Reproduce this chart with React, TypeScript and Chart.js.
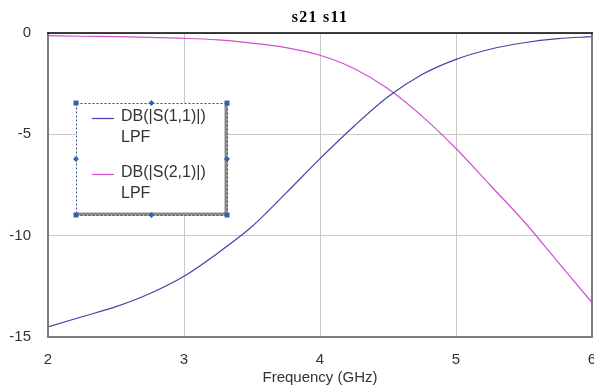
import React, { useEffect, useRef } from "react";
import { Chart, registerables } from "chart.js";

Chart.register(...registerables);

const freqGHz = [2, 2.25, 2.5, 2.75, 3, 3.25, 3.5, 3.75, 4, 4.25, 4.5, 4.75, 5, 5.25, 5.5, 5.75, 6];
const s11dB = [-14.5, -14.0, -13.5, -12.85, -12.0, -10.85, -9.55, -7.9, -6.2, -4.6, -3.15, -2.05, -1.3, -0.8, -0.48, -0.28, -0.18];
const s21dB = [-0.13, -0.16, -0.18, -0.22, -0.26, -0.34, -0.5, -0.72, -1.1, -1.75, -2.75, -4.1, -5.7, -7.5, -9.3, -11.3, -13.3];
const xTicks = [2, 3, 4, 5, 6];
const yTicks = [0, -5, -10, -15];
const seriesNames = ["DB(|S(1,1)|)", "DB(|S(2,1)|)"];
const seriesSub = ["LPF", "LPF"];
const chartTitle = "s21 s11";
const xTitle = "Frequency (GHz)";

const BLUE = "#4444a8";
const MAGENTA = "#d050d0";
const TXT = "#333333";
const FONT = "'Liberation Sans', Arial, sans-serif";

const decorPlugin = {
  id: "decor",
  afterDraw(chart: any) {
    const { ctx, chartArea: a } = chart;
    ctx.save();
    // borders
    ctx.lineWidth = 2;
    ctx.strokeStyle = "#7a7a7a";
    ctx.beginPath();
    ctx.moveTo(a.left, a.top);
    ctx.lineTo(a.left, a.bottom);
    ctx.lineTo(a.right, a.bottom);
    ctx.lineTo(a.right, a.top);
    ctx.stroke();
    ctx.lineWidth = 1.5;
    ctx.strokeStyle = "#000000";
    ctx.beginPath();
    ctx.moveTo(a.left - 1, a.top);
    ctx.lineTo(a.right + 1, a.top);
    ctx.stroke();

    // title
    ctx.fillStyle = "#000";
    ctx.font = "bold 16px 'Liberation Serif', 'Times New Roman', serif";
    (ctx as any).letterSpacing = "1.3px";
    ctx.textAlign = "center";
    ctx.textBaseline = "middle";
    ctx.fillText(chartTitle, (a.left + a.right) / 2, 18);
    (ctx as any).letterSpacing = "0px";

    // x title
    ctx.fillStyle = TXT;
    ctx.font = "15px " + FONT;
    ctx.fillText(xTitle, (a.left + a.right) / 2, 378);

    // legend box
    const L = 76, T = 103, R = 227, B = 215;
    ctx.fillStyle = "#ffffff";
    ctx.fillRect(L, T, R - L, B - T);
    ctx.strokeStyle = "#8a8a8a";
    ctx.lineWidth = 3;
    ctx.beginPath();
    ctx.moveTo(R - 1, T + 2);
    ctx.lineTo(R - 1, B - 1);
    ctx.lineTo(L + 2, B - 1);
    ctx.stroke();
    ctx.strokeStyle = "#2c4a78";
    ctx.lineWidth = 1;
    ctx.setLineDash([2, 2]);
    ctx.strokeRect(L + 0.5, T + 0.5, R - L, B - T);
    ctx.setLineDash([]);
    ctx.fillStyle = "#3464a8";
    const corners = [[L, T], [R, T], [L, B], [R, B]];
    corners.forEach(([x, y]) => ctx.fillRect(x - 2.5, y - 2.5, 5, 5));
    const mids = [[(L + R) / 2, T], [(L + R) / 2, B], [L, (T + B) / 2], [R, (T + B) / 2]];
    mids.forEach(([x, y]) => {
      ctx.beginPath();
      ctx.moveTo(x, y - 3);
      ctx.lineTo(x + 3, y);
      ctx.lineTo(x, y + 3);
      ctx.lineTo(x - 3, y);
      ctx.closePath();
      ctx.fill();
    });
    const cols = [BLUE, MAGENTA];
    const rows = [117, 173];
    ctx.textAlign = "left";
    ctx.textBaseline = "middle";
    ctx.font = "16px " + FONT;
    rows.forEach((y, i) => {
      ctx.strokeStyle = cols[i];
      ctx.lineWidth = 1.2;
      ctx.beginPath();
      ctx.moveTo(92, y + 1.5);
      ctx.lineTo(114, y + 1.5);
      ctx.stroke();
      ctx.fillStyle = TXT;
      ctx.fillText(seriesNames[i], 121, y);
      ctx.fillText(seriesSub[i], 121, y + 20.5);
    });
    ctx.restore();
  },
};

export default function App() {
  const ref = useRef<HTMLCanvasElement>(null);
  useEffect(() => {
    if (!ref.current) return;
    const chart = new Chart(ref.current, {
      type: "line",
      data: {
        datasets: [
          {
            label: seriesNames[0],
            data: freqGHz.map((f, i) => ({ x: f, y: s11dB[i] })),
            borderColor: BLUE,
            borderWidth: 1.2,
            pointRadius: 0,
            cubicInterpolationMode: "monotone",
          },
          {
            label: seriesNames[1],
            data: freqGHz.map((f, i) => ({ x: f, y: s21dB[i] })),
            borderColor: MAGENTA,
            borderWidth: 1.2,
            pointRadius: 0,
            cubicInterpolationMode: "monotone",
          },
        ],
      },
      options: {
        animation: false,
        responsive: false,
        layout: { padding: { top: 33, right: 2, left: 0, bottom: 0 } },
        plugins: { legend: { display: false }, title: { display: false }, tooltip: { enabled: false } },
        scales: {
          x: {
            type: "linear",
            min: 2,
            max: 6,
            afterBuildTicks: (s: any) => { s.ticks = xTicks.map((v) => ({ value: v })); },
            grid: { color: "#c8c8c8", drawTicks: false, lineWidth: 1 },
            border: { display: false },
            ticks: { color: TXT, font: { size: 15, family: FONT }, padding: 14, maxRotation: 0 },
            afterFit: (s: any) => { s.height = 53; s.paddingLeft = 0; s.paddingRight = 0; },
          },
          y: {
            min: -15,
            max: 0,
            afterBuildTicks: (s: any) => { s.ticks = yTicks.map((v) => ({ value: v })); },
            grid: { color: "#c8c8c8", drawTicks: false, lineWidth: 1 },
            border: { display: false },
            ticks: { color: TXT, font: { size: 15, family: FONT }, padding: 17 },
            afterFit: (s: any) => { s.width = 48; s.paddingTop = 0; s.paddingBottom = 0; },
          },
        },
      },
      plugins: [decorPlugin],
    });
    return () => chart.destroy();
  }, []);
  return (
    <div style={{ position: "fixed", left: 0, top: 0, width: 594, height: 390, background: "#fff" }}>
      <canvas ref={ref} width={594} height={390} style={{ width: 594, height: 390, display: "block" }} />
    </div>
  );
}
